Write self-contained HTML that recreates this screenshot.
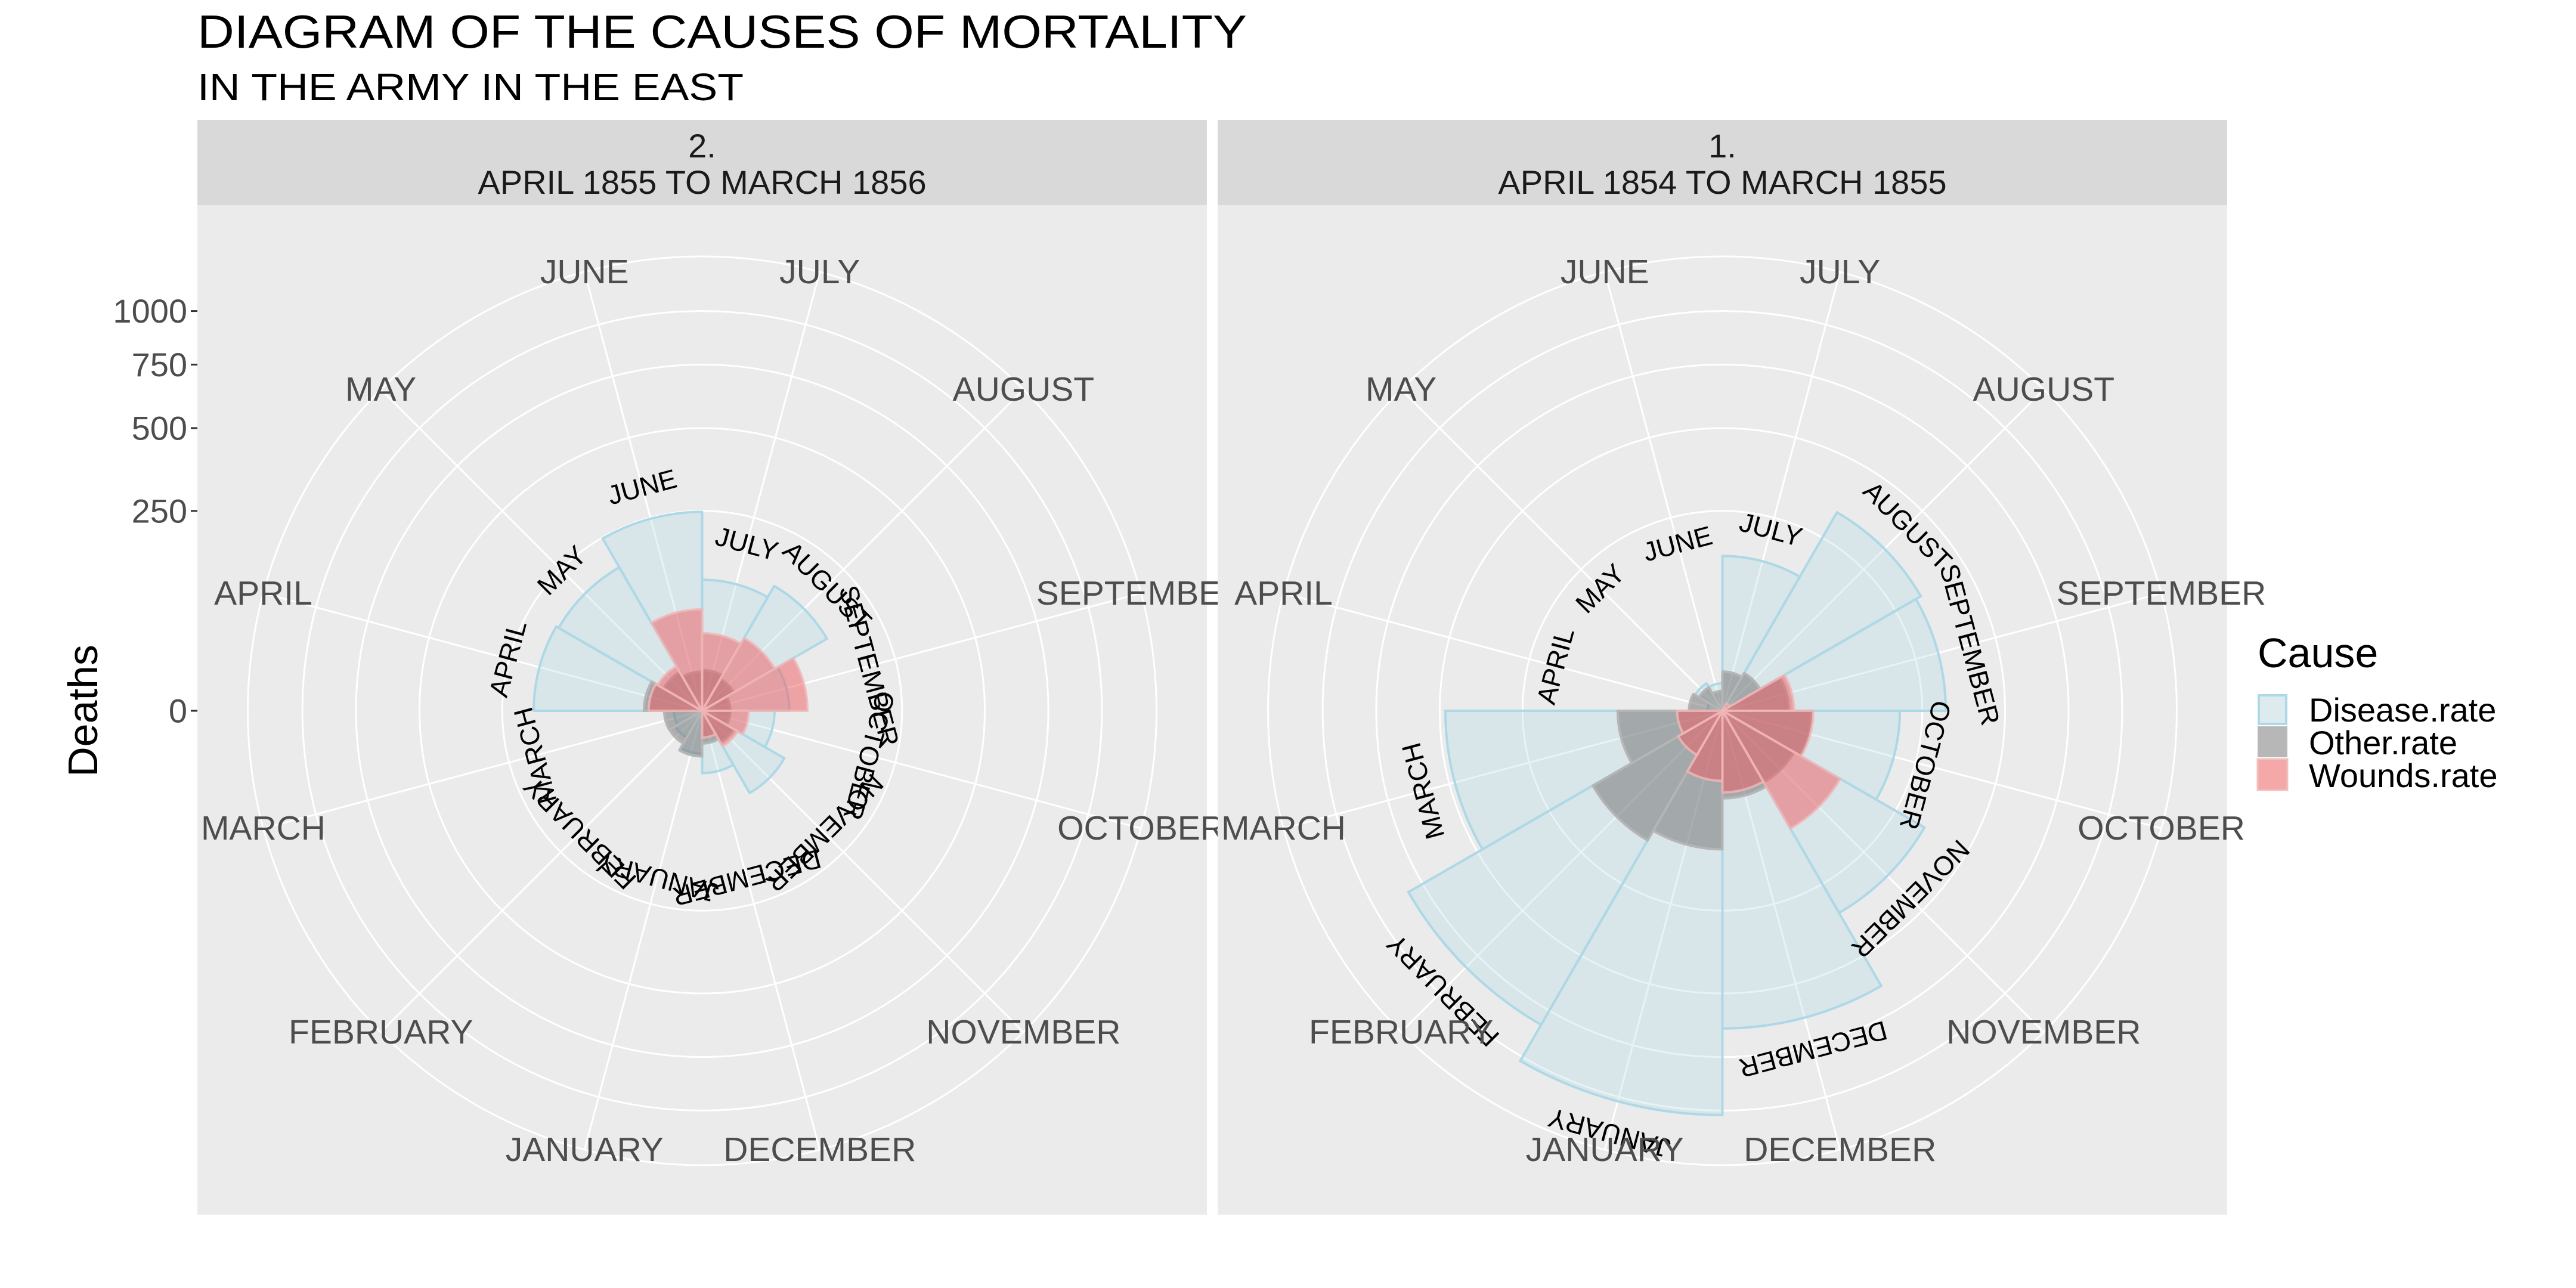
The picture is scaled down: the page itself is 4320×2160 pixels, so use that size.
<!DOCTYPE html>
<html><head><meta charset="utf-8"><title>Diagram of the causes of mortality</title>
<style>html,body{margin:0;padding:0;background:#fff;}svg{display:block;font-family:"Liberation Sans",Arial,sans-serif;}</style>
</head><body>
<svg id="chart" xmlns="http://www.w3.org/2000/svg" width="4320" height="2160" viewBox="0 0 4320 2160">
<rect x="0" y="0" width="4320" height="2160" fill="#ffffff"/>
<text x="331" y="80" font-size="78" fill="#000" textLength="1760" lengthAdjust="spacingAndGlyphs">DIAGRAM OF THE CAUSES OF MORTALITY</text>
<text x="331" y="168" font-size="64" fill="#000" textLength="916" lengthAdjust="spacingAndGlyphs">IN THE ARMY IN THE EAST</text>
<text x="163" y="1192" font-size="70" fill="#000" text-anchor="middle" transform="rotate(-90 163 1192)">Deaths</text>
<g id="panels"></g>
<g id="yaxis"></g>
<g>
<text x="3786" y="1119" font-size="70" fill="#000">Cause</text>
<rect x="3786" y="1164" width="50" height="52" fill="#f2f2f2"/>
<rect x="3788" y="1166" width="46" height="48" fill="#add8e6" fill-opacity="0.3" stroke="#add8e6" stroke-width="4"/>
<text x="3872" y="1210" font-size="56" fill="#000">Disease.rate</text>
<rect x="3786" y="1218" width="50" height="52" fill="#b8b7b8"/>
<text x="3872" y="1265" font-size="56" fill="#000">Other.rate</text>
<rect x="3786" y="1273" width="50" height="52" fill="#f4a8a8" stroke="#f0c0c0" stroke-width="3"/>
<text x="3872" y="1320" font-size="56" fill="#000">Wounds.rate</text>
</g>
</svg>
<script>
const months = ["APRIL","MAY","JUNE","JULY","AUGUST","SEPTEMBER","OCTOBER","NOVEMBER","DECEMBER","JANUARY","FEBRUARY","MARCH"];
const disease2 = [177.5,171.8,247.6,107.5,129.9,47.5,32.8,56.4,24.3,11.5,6.0,5.0];
const wounds2  = [17.9,16.6,64.5,37.7,44.1,69.4,13.6,10.5,4.5,0,0,0];
const other2   = [21.2,12.5,9.6,10.4,8.4,5.0,5.0,8.3,6.7,13.0,8.9,9.0];
const disease1 = [1.4,6.2,4.7,150,328.5,312.2,197,340.6,631.5,1022.8,822.8,480.3];
const wounds1  = [0,0,0,0,0.4,32.1,51.7,115.8,41.7,30.7,16.3,12.8];
const other1   = [7.0,4.6,2.5,9.6,11.9,27.7,50.1,42.8,48.0,120.0,140.1,68.6];
const yTicks = [0,250,500,750,1000];
const stripLabels = [["2.","APRIL 1855 TO MARCH 1856"],["1.","APRIL 1854 TO MARCH 1855"]];

const NS = "http://www.w3.org/2000/svg";
const CY = 1192, PANEL_TOP = 201, STRIP_H = 143, PANEL_BOTTOM = 2037;
const K = 21.2, OUTER = 762;
function rScale(v){ return K*Math.sqrt(Math.max(0,v)); }
function angStart(i){ return 270 + 30*i; }
function pt(cx,r,deg){ const a=deg*Math.PI/180; return [cx + r*Math.sin(a), CY - r*Math.cos(a)]; }
function mk(tag, attrs, parent){ const e=document.createElementNS(NS,tag); for(const k in attrs) e.setAttribute(k,attrs[k]); parent.appendChild(e); return e; }

function drawPanel(parent, x0, w, strip, dis, wou, oth, key){
  const g = mk("g",{},parent);
  
  
  const cx = x0 + w/2;
  const st = mk("rect",{x:x0,y:PANEL_TOP,width:w,height:STRIP_H,fill:"#d9d9d9"},g);
  
  
  const t1 = mk("text",{x:cx,y:264,"font-size":56,fill:"#1a1a1a","text-anchor":"middle"},g);
  t1.textContent = strip[0];
  
  
  const t2 = mk("text",{x:cx,y:325,"font-size":56,fill:"#1a1a1a","text-anchor":"middle"},g);
  t2.textContent = strip[1];
  
  
  const bg = mk("rect",{x:x0,y:PANEL_TOP+STRIP_H,width:w,height:PANEL_BOTTOM-PANEL_TOP-STRIP_H,fill:"#ebebeb"},g);
  
  
  yTicks.slice(1).forEach(v=>{
    const c = mk("circle",{cx:cx,cy:CY,r:rScale(v),fill:"none",stroke:"#fff","stroke-width":3},g);
    
    
  });
  const oc = mk("circle",{cx:cx,cy:CY,r:OUTER,fill:"none",stroke:"#fff","stroke-width":3},g);
  
  
  months.forEach((m,i)=>{
    const p = pt(cx,OUTER,angStart(i)+15);
    const l = mk("line",{x1:cx,y1:CY,x2:p[0],y2:p[1],stroke:"#fff","stroke-width":3},g);
    
    
  });
  const layers = [
    [dis,"disease",{fill:"#add8e6","fill-opacity":0.3,stroke:"#add8e6","stroke-width":4}],
    [oth,"other",{fill:"#767676","fill-opacity":0.54,stroke:"#b5b5b5","stroke-width":4}],
    [wou,"wounds",{fill:"#f05a5f","fill-opacity":0.5,stroke:"#f0b8b8","stroke-width":4,"stroke-opacity":0.8}]
  ];
  layers.forEach(([vals,name,sty])=>{
    vals.forEach((v,i)=>{
      const r = rScale(v);
      if(r<=0) return;
      const a0 = angStart(i), a1 = a0+30;
      const p0 = pt(cx,r,a0), p1 = pt(cx,r,a1);
      const d = "M"+cx+","+CY+" L"+p0[0].toFixed(2)+","+p0[1].toFixed(2)+" A"+r.toFixed(2)+","+r.toFixed(2)+" 0 0 1 "+p1[0].toFixed(2)+","+p1[1].toFixed(2)+" Z";
      const attrs = Object.assign({d:d,"stroke-linejoin":"round"},sty);
      const p = mk("path",attrs,g);
      
      
    });
  });
  months.forEach((m,i)=>{
    const mx = Math.max(rScale(dis[i]),rScale(wou[i]),rScale(oth[i]));
    const rl = Math.max(mx+55, 290);
    const ang = angStart(i)+15;
    const p = pt(cx,rl,ang);
    const t = mk("text",{x:p[0],y:p[1],"font-size":45,fill:"#000","text-anchor":"middle","dominant-baseline":"central",transform:"rotate("+(ang%360)+" "+p[0]+" "+p[1]+")"},g);
    t.textContent = m;
    
    
  });
  months.forEach((m,i)=>{
    const p = pt(cx,OUTER,angStart(i)+15);
    const t = mk("text",{x:p[0],y:p[1],"font-size":57,fill:"#4d4d4d","text-anchor":"middle","dominant-baseline":"central"},g);
    t.textContent = m;
    
    
  });
}

const panels = document.getElementById("panels");
drawPanel(panels, 331, 1693, stripLabels[0], disease2, wounds2, other2, "1855");
drawPanel(panels, 2042, 1693, stripLabels[1], disease1, wounds1, other1, "1854");

const yaxis = document.getElementById("yaxis");
yTicks.forEach(v=>{
  const y = CY - rScale(v);
  const l = mk("line",{x1:320,y1:y,x2:331,y2:y,stroke:"#333","stroke-width":3},yaxis);
  
  
  const t = mk("text",{x:314,y:y,"font-size":56,fill:"#4d4d4d","text-anchor":"end","dominant-baseline":"central"},yaxis);
  t.textContent = String(v);
  
  
});
</script>
</body></html>
